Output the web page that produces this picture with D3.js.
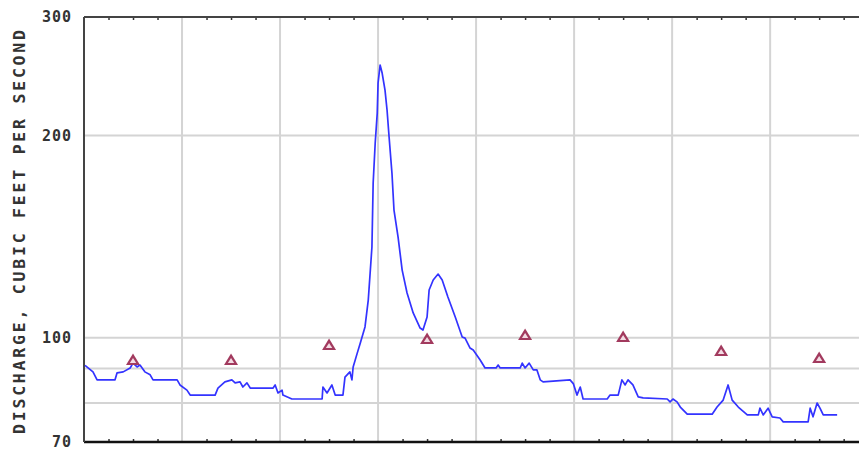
<!DOCTYPE html>
<html><head><meta charset="utf-8">
<script src="https://cdn.jsdelivr.net/npm/d3@7"></script>
<style>html,body{margin:0;padding:0;background:#fff;}svg{display:block;}</style>
</head><body>
<svg id="c" width="859" height="450"></svg>
<script>
// time in hours from start of period, discharge in cubic feet per second
const hours = [0.25,2.2,3.2,7.6,8.1,9.6,11.3,12.0,13.0,13.7,14.9,16.2,16.9,22.8,23.5,25.2,26.0,32.1,32.8,34.5,36.2,37.0,38.2,38.9,39.9,40.7,46.3,46.8,47.5,48.5,48.7,50.9,58.3,58.5,59.5,60.7,61.5,63.4,63.9,65.1,65.6,65.9,66.9,67.6,68.8,69.6,70.5,70.8,71.3,71.8,72.0,72.5,73.0,73.7,74.2,74.7,75.4,75.9,76.9,77.9,79.1,80.6,82.3,83.0,84.0,84.5,85.5,86.7,87.7,89.1,90.9,92.6,93.3,94.5,95.3,97.0,98.2,100.9,101.4,101.9,106.8,107.3,108.0,109.0,110.0,110.9,111.7,112.4,119.0,119.8,120.7,121.5,122.2,128.1,128.8,130.8,131.7,132.5,133.2,134.4,135.7,136.9,142.8,143.5,144.2,145.2,146.0,147.7,153.8,155.0,156.5,157.7,158.7,160.2,162.4,165.1,165.5,166.3,167.5,168.5,170.4,171.2,177.3,177.8,178.5,179.5,180.2,181.0,184.4];
const discharge = [91,89,86.6,86.6,88.7,89,90.2,91.7,90.5,91.1,89,88.1,86.6,86.6,85.1,83.6,82.2,82.2,84.2,86.0,86.6,85.7,86.0,84.5,85.7,84.2,84.2,85.1,82.8,83.6,82.2,81.1,81.1,84.5,82.8,85.1,82.2,82.2,87.4,89.0,86.6,90.5,94.9,98,103.8,113.8,136.5,169.9,194.9,215.9,239.3,254.5,247.6,233.6,218.2,198.9,175.8,154.9,141.2,126.1,116.6,108.9,103.4,102.7,107.4,117.8,121.9,124.4,121.9,115.0,107.4,100.3,99.9,96.6,95.9,92.7,90.2,90.2,91.1,90.2,90.2,91.7,90.2,91.7,89.6,89.6,86.6,86.0,86.6,85.5,82.2,84.5,81.1,81.1,82.2,82.2,86.6,85.1,86.6,85.1,81.7,81.4,81.1,80.3,81.1,80.3,78.9,77.0,77.0,78.9,80.8,85.1,80.8,78.9,76.8,76.8,78.6,76.8,78.6,76.3,76.0,75.0,75.0,78.6,76.3,80.0,78.6,76.8,76.8];
// daily median markers (at noon of each day)
const medianHours = [12,36,60,84,108,132,156,180];
const medianValues = [92.7,92.7,97.6,99.6,101.0,100.3,95.6,93.3];
const yTickValues = [70,100,200,300];
const yGridValues = [80,90,100,200];
const yTitle = "DISCHARGE, CUBIC FEET PER SECOND";

const svg = d3.select("#c");
const pL = 84, pR = 860, pT = 17, pB = 442;
const x = d3.scaleLinear().domain([0,190]).range([pL, pR]);
const y = d3.scaleLog().domain([70,300]).range([pB, pT]);

// vertical day grid
const dayTicks = d3.range(24, 190, 24);
svg.append("g").selectAll("line").data(dayTicks).join("line")
  .attr("x1", d=>x(d)).attr("x2", d=>x(d)).attr("y1", pT).attr("y2", pB)
  .attr("stroke", "#d4d4d4").attr("stroke-width", 2);
// horizontal grid
svg.append("g").selectAll("line").data(yGridValues).join("line")
  .attr("x1", pL).attr("x2", 859).attr("y1", d=>y(d)).attr("y2", d=>y(d))
  .attr("stroke", "#d4d4d4").attr("stroke-width", 2);

// minor ticks every 6 hours on top and bottom
const minor = d3.range(6, 190, 6).filter(h => h % 24 !== 0);
const bAxis = d3.axisBottom(x).tickValues(minor).tickSize(-3).tickFormat("");
const tAxis = d3.axisTop(x).tickValues(minor).tickSize(-3).tickFormat("");
const gb = svg.append("g").attr("transform", `translate(0,${pB})`).call(bAxis);
const gt = svg.append("g").attr("transform", `translate(0,${pT})`).call(tAxis);
[gb, gt].forEach(g => {
  g.select(".domain").remove();
  g.selectAll(".tick line").attr("stroke", "#333").attr("stroke-width", 1.5);
});

// frame lines
svg.append("line").attr("x1", pL).attr("x2", 859).attr("y1", pB).attr("y2", pB)
  .attr("stroke", "#111").attr("stroke-width", 2.5);
svg.append("line").attr("x1", pL).attr("x2", 859).attr("y1", pT).attr("y2", pT)
  .attr("stroke", "#444").attr("stroke-width", 2);
svg.append("line").attr("x1", pL).attr("x2", pL).attr("y1", pT).attr("y2", pB)
  .attr("stroke", "#444").attr("stroke-width", 2);

// y axis labels
const yAxis = d3.axisLeft(y).tickValues(yTickValues).tickSize(0).tickPadding(12).tickFormat(d3.format("d"));
const gy = svg.append("g").attr("transform", `translate(${pL},0)`).call(yAxis);
gy.select(".domain").remove();
gy.selectAll(".tick text")
  .attr("font-family", "'DejaVu Sans Mono', monospace").attr("font-weight", "bold")
  .attr("font-size", 15).attr("fill", "#333").attr("letter-spacing", 1);

svg.append("text")
  .attr("transform", "translate(25,232) rotate(-90)")
  .attr("text-anchor", "middle")
  .attr("font-family", "'DejaVu Sans Mono', monospace").attr("font-weight", "bold")
  .attr("font-size", 16.5).attr("fill", "#333")
  .attr("textLength", 404).attr("lengthAdjust", "spacing")
  .text(yTitle);

// discharge line
const pts = hours.map((h,i)=>[h, discharge[i]]);
svg.append("path").datum(pts)
  .attr("fill", "none").attr("stroke", "#3333ff").attr("stroke-width", 1.7)
  .attr("stroke-linejoin", "round")
  .attr("d", d3.line().x(d=>x(d[0])).y(d=>y(d[1])));

// median triangles
const tri = svg.append("g").selectAll("g").data(medianHours.map((h,i)=>[h, medianValues[i]])).join("g")
  .attr("transform", d=>`translate(${x(d[0])},${y(d[1])})`);
tri.append("path").attr("d", "M0,-6.5 L7,5 L-7,5 Z").attr("fill", "#a23a5e");
tri.append("path").attr("d", "M0,-2 L3.2,3 L-3.2,3 Z").attr("fill", "#f3dbe3");
</script>
</body></html>
